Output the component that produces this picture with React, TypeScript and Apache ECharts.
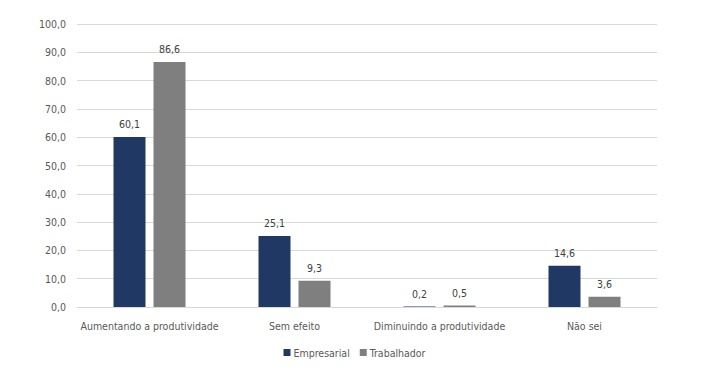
import React, { useEffect, useRef } from "react";
import * as echarts from "echarts";

const categories = ["Aumentando a produtividade", "Sem efeito", "Diminuindo a produtividade", "Não sei"];
const empresarial = [60.1, 25.1, 0.2, 14.6];
const trabalhador = [86.6, 9.3, 0.5, 3.6];
const seriesNames = ["Empresarial", "Trabalhador"];

const FONT = "'DejaVu Sans Condensed', 'DejaVu Sans', sans-serif";
const fmt = (v: number) => v.toFixed(1).replace(".", ",");

export default function App() {
  const ref = useRef<HTMLDivElement>(null);
  useEffect(() => {
    document.body.style.margin = "0";
    if (!ref.current) return;
    const chart = echarts.init(ref.current, undefined, { renderer: "svg" });
    chart.setOption({
      animation: false,
      textStyle: { fontFamily: FONT },
      grid: { left: 77, right: 52, top: 24, bottom: 76, containLabel: false },
      legend: {
        data: seriesNames,
        bottom: 20,
        left: "center",
        itemWidth: 7,
        itemHeight: 7,
        itemGap: 10,
        icon: "rect",
        textStyle: { fontFamily: FONT, fontSize: 10.5, color: "#595959", padding: [0, 0, 0, -2] },
      },
      xAxis: {
        type: "category",
        data: categories,
        axisLine: { lineStyle: { color: "#D9D9D9" } },
        axisTick: { show: false },
        axisLabel: { color: "#595959", fontSize: 10.5, fontFamily: FONT, margin: 13, interval: 0 },
      },
      yAxis: {
        type: "value",
        min: 0,
        max: 100,
        interval: 10,
        axisLine: { show: false },
        axisTick: { show: false },
        splitLine: { lineStyle: { color: "#D9D9D9" } },
        axisLabel: { color: "#595959", fontSize: 10.5, fontFamily: FONT, formatter: (v: number) => fmt(v), margin: 11 },
      },
      series: [
        {
          name: seriesNames[0],
          type: "bar",
          data: empresarial,
          barWidth: 32,
          barGap: "25%",
          itemStyle: { color: "#1F3864" },
          label: { show: true, position: "top", color: "#404040", fontSize: 10.5, fontFamily: FONT, distance: 7, formatter: (p: any) => fmt(p.value) },
        },
        {
          name: seriesNames[1],
          type: "bar",
          data: trabalhador,
          barWidth: 32,
          itemStyle: { color: "#7F7F7F" },
          label: { show: true, position: "top", color: "#404040", fontSize: 10.5, fontFamily: FONT, distance: 7, formatter: (p: any) => fmt(p.value) },
        },
      ],
    });
    return () => chart.dispose();
  }, []);
  return <div ref={ref} style={{ width: 709, height: 383 }} />;
}
